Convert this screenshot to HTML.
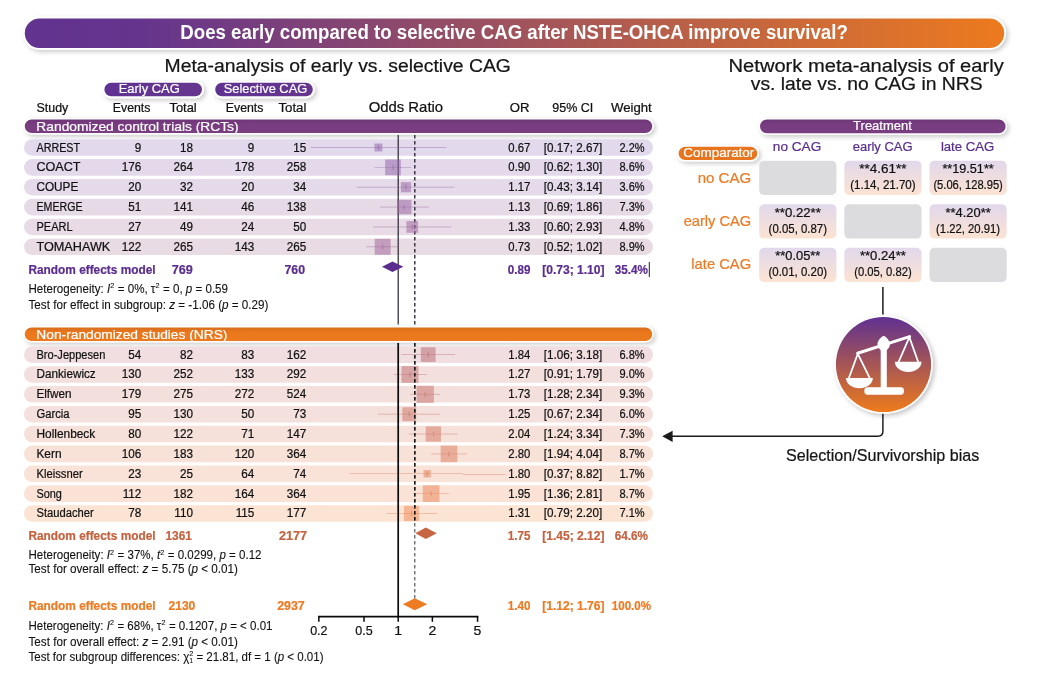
<!DOCTYPE html>
<html lang="en"><head><meta charset="utf-8"><title>Does early compared to selective CAG after NSTE-OHCA improve survival?</title>
<style>
html,body{margin:0;padding:0;background:#fff;}
body{width:1049px;height:678px;overflow:hidden;font-family:'Liberation Sans',sans-serif;}
svg{display:block;}
text{white-space:pre;}
</style></head><body>
<svg width="1049" height="678" viewBox="0 0 1049 678" font-family="'Liberation Sans', sans-serif">
<defs>
<linearGradient id="gTitle" x1="0" y1="0" x2="1" y2="0">
 <stop offset="0" stop-color="#62338f"/><stop offset="0.12" stop-color="#65358d"/><stop offset="1" stop-color="#ec7a1e"/>
</linearGradient>
<linearGradient id="gCirc" x1="0" y1="0" x2="0" y2="1">
 <stop offset="0" stop-color="#5f3191"/><stop offset="1" stop-color="#ee7b1b"/>
</linearGradient>
<linearGradient id="gCell" x1="0" y1="0" x2="0" y2="1">
 <stop offset="0" stop-color="#e1d8ec"/><stop offset="1" stop-color="#fce3d2"/>
</linearGradient>
<linearGradient id="gPill" x1="0" y1="0" x2="1" y2="0">
 <stop offset="0" stop-color="#5f3292"/><stop offset="1" stop-color="#66368e"/>
</linearGradient>
<linearGradient id="gNRS" x1="0" y1="0" x2="0" y2="1">
 <stop offset="0" stop-color="#d96d1c"/><stop offset="0.35" stop-color="#ea771c"/><stop offset="1" stop-color="#ec7a1e"/>
</linearGradient>
<linearGradient id="gRCT" x1="0" y1="0" x2="0" y2="1">
 <stop offset="0" stop-color="#6e3677"/><stop offset="0.35" stop-color="#783c80"/><stop offset="1" stop-color="#793d80"/>
</linearGradient>
<filter id="sh" x="-5%" y="-40%" width="110%" height="180%">
 <feGaussianBlur in="SourceAlpha" stdDeviation="2.4"/>
 <feOffset dx="1.5" dy="2"/>
 <feComponentTransfer><feFuncA type="linear" slope="0.22"/></feComponentTransfer>
 <feMerge><feMergeNode/><feMergeNode in="SourceGraphic"/></feMerge>
</filter>
<filter id="shc" x="-20%" y="-20%" width="140%" height="140%">
 <feGaussianBlur in="SourceAlpha" stdDeviation="2.4"/>
 <feOffset dx="1.5" dy="2"/>
 <feComponentTransfer><feFuncA type="linear" slope="0.25"/></feComponentTransfer>
 <feMerge><feMergeNode/><feMergeNode in="SourceGraphic"/></feMerge>
</filter>
</defs>
<rect width="1049" height="678" fill="#ffffff"/>
<rect x="23.00" y="16.60" width="983.00" height="33.20" rx="16.60" fill="#ffffff" filter="url(#sh)"/>
<rect x="24.8" y="18.4" width="979.4" height="29.6" rx="14.8" fill="url(#gTitle)"/>
<text x="180.32" y="38.70" font-size="19.5" font-weight="bold" fill="#ffffff" stroke="#ffffff" stroke-width="0" textLength="667.46" lengthAdjust="spacingAndGlyphs" >Does early compared to selective CAG after NSTE-OHCA improve survival?</text>
<text x="164.59" y="71.70" font-size="18" fill="#151515" stroke="#151515" stroke-width="0.22" textLength="346.32" lengthAdjust="spacingAndGlyphs" >Meta-analysis of early vs. selective CAG</text>
<text x="728.59" y="71.90" font-size="18" fill="#151515" stroke="#151515" stroke-width="0.22" textLength="275.12" lengthAdjust="spacingAndGlyphs" >Network meta-analysis of early</text>
<text x="750.79" y="89.70" font-size="18" fill="#151515" stroke="#151515" stroke-width="0.22" textLength="231.82" lengthAdjust="spacingAndGlyphs" >vs. late vs. no CAG in NRS</text>
<rect x="102.50" y="80.90" width="101.40" height="17.30" rx="8.65" fill="#ffffff" filter="url(#sh)"/>
<rect x="104.4" y="82.8" width="97.6" height="13.5" rx="6.75" fill="url(#gPill)"/>
<text x="118.72" y="93.00" font-size="13" fill="#ffffff" stroke="#ffffff" stroke-width="0.22" textLength="61.07" lengthAdjust="spacingAndGlyphs" >Early CAG</text>
<rect x="213.30" y="80.90" width="101.40" height="17.30" rx="8.65" fill="#ffffff" filter="url(#sh)"/>
<rect x="215.2" y="82.8" width="97.6" height="13.5" rx="6.75" fill="url(#gPill)"/>
<text x="223.72" y="93.00" font-size="13" fill="#ffffff" stroke="#ffffff" stroke-width="0.22" textLength="83.47" lengthAdjust="spacingAndGlyphs" >Selective CAG</text>
<text x="36.56" y="111.60" font-size="12" fill="#111111" stroke="#111111" stroke-width="0.22" textLength="31.68" lengthAdjust="spacingAndGlyphs" >Study</text>
<text x="112.76" y="111.60" font-size="12" fill="#111111" stroke="#111111" stroke-width="0.22" textLength="37.68" lengthAdjust="spacingAndGlyphs" >Events</text>
<text x="169.46" y="111.60" font-size="12" fill="#111111" stroke="#111111" stroke-width="0.22" textLength="27.28" lengthAdjust="spacingAndGlyphs" >Total</text>
<text x="225.76" y="111.60" font-size="12" fill="#111111" stroke="#111111" stroke-width="0.22" textLength="37.68" lengthAdjust="spacingAndGlyphs" >Events</text>
<text x="278.46" y="111.60" font-size="12" fill="#111111" stroke="#111111" stroke-width="0.22" textLength="27.98" lengthAdjust="spacingAndGlyphs" >Total</text>
<text x="368.65" y="111.60" font-size="14.5" fill="#111111" stroke="#111111" stroke-width="0.22" textLength="74.50" lengthAdjust="spacingAndGlyphs" >Odds Ratio</text>
<text x="509.76" y="111.50" font-size="12" fill="#111111" stroke="#111111" stroke-width="0.22" textLength="19.68" lengthAdjust="spacingAndGlyphs" >OR</text>
<text x="552.26" y="111.50" font-size="12" fill="#111111" stroke="#111111" stroke-width="0.22" textLength="40.98" lengthAdjust="spacingAndGlyphs" >95% CI</text>
<text x="610.96" y="111.50" font-size="12" fill="#111111" stroke="#111111" stroke-width="0.22" textLength="40.78" lengthAdjust="spacingAndGlyphs" >Weight</text>
<rect x="23.40" y="118.00" width="630.20" height="16.40" rx="8.20" fill="#ffffff" filter="url(#sh)"/>
<rect x="24.8" y="119.4" width="627.4" height="13.6" rx="6.8" fill="url(#gRCT)"/>
<text x="36.39" y="130.80" font-size="13.5" fill="#ffffff" stroke="#ffffff" stroke-width="0.22" textLength="202.22" lengthAdjust="spacingAndGlyphs" >Randomized control trials (RCTs)</text>
<rect x="23.40" y="326.10" width="630.20" height="16.20" rx="8.10" fill="#ffffff" filter="url(#sh)"/>
<rect x="24.8" y="327.5" width="627.4" height="13.4" rx="6.7" fill="url(#gNRS)"/>
<text x="36.39" y="338.60" font-size="13.5" fill="#ffffff" stroke="#ffffff" stroke-width="0.22" textLength="191.02" lengthAdjust="spacingAndGlyphs" >Non-randomized studies (NRS)</text>
<rect x="24" y="139.20" width="629" height="16.6" rx="8.3" fill="#e2d9ec"/>
<text x="36.46" y="151.50" font-size="12" fill="#111111" stroke="#111111" stroke-width="0.22" textLength="43.68" lengthAdjust="spacingAndGlyphs" >ARREST</text>
<text x="134.77" y="151.50" font-size="12" fill="#111111" stroke="#111111" stroke-width="0.22" textLength="6.51" lengthAdjust="spacingAndGlyphs" >9</text>
<text x="179.97" y="151.50" font-size="12" fill="#111111" stroke="#111111" stroke-width="0.22" textLength="13.01" lengthAdjust="spacingAndGlyphs" >18</text>
<text x="247.77" y="151.50" font-size="12" fill="#111111" stroke="#111111" stroke-width="0.22" textLength="6.51" lengthAdjust="spacingAndGlyphs" >9</text>
<text x="293.27" y="151.50" font-size="12" fill="#111111" stroke="#111111" stroke-width="0.22" textLength="13.01" lengthAdjust="spacingAndGlyphs" >15</text>
<text x="508.36" y="151.50" font-size="12" fill="#111111" stroke="#111111" stroke-width="0.22" textLength="21.98" lengthAdjust="spacingAndGlyphs" >0.67</text>
<text x="543.86" y="151.50" font-size="12" fill="#111111" stroke="#111111" stroke-width="0.22" textLength="58.38" lengthAdjust="spacingAndGlyphs" >[0.17; 2.67]</text>
<text x="619.46" y="151.50" font-size="12" fill="#111111" stroke="#111111" stroke-width="0.22" textLength="25.08" lengthAdjust="spacingAndGlyphs" >2.2%</text>
<rect x="24" y="159.06" width="629" height="16.6" rx="8.3" fill="#e3d9ea"/>
<text x="36.46" y="171.36" font-size="12" fill="#111111" stroke="#111111" stroke-width="0.22" textLength="44.08" lengthAdjust="spacingAndGlyphs" >COACT</text>
<text x="121.76" y="171.36" font-size="12" fill="#111111" stroke="#111111" stroke-width="0.22" textLength="19.52" lengthAdjust="spacingAndGlyphs" >176</text>
<text x="173.46" y="171.36" font-size="12" fill="#111111" stroke="#111111" stroke-width="0.22" textLength="19.52" lengthAdjust="spacingAndGlyphs" >264</text>
<text x="234.76" y="171.36" font-size="12" fill="#111111" stroke="#111111" stroke-width="0.22" textLength="19.52" lengthAdjust="spacingAndGlyphs" >178</text>
<text x="286.76" y="171.36" font-size="12" fill="#111111" stroke="#111111" stroke-width="0.22" textLength="19.52" lengthAdjust="spacingAndGlyphs" >258</text>
<text x="508.36" y="171.36" font-size="12" fill="#111111" stroke="#111111" stroke-width="0.22" textLength="21.98" lengthAdjust="spacingAndGlyphs" >0.90</text>
<text x="543.86" y="171.36" font-size="12" fill="#111111" stroke="#111111" stroke-width="0.22" textLength="58.38" lengthAdjust="spacingAndGlyphs" >[0.62; 1.30]</text>
<text x="619.46" y="171.36" font-size="12" fill="#111111" stroke="#111111" stroke-width="0.22" textLength="25.08" lengthAdjust="spacingAndGlyphs" >8.6%</text>
<rect x="24" y="178.92" width="629" height="16.6" rx="8.3" fill="#e5dae9"/>
<text x="36.46" y="191.22" font-size="12" fill="#111111" stroke="#111111" stroke-width="0.22" textLength="41.78" lengthAdjust="spacingAndGlyphs" >COUPE</text>
<text x="128.27" y="191.22" font-size="12" fill="#111111" stroke="#111111" stroke-width="0.22" textLength="13.01" lengthAdjust="spacingAndGlyphs" >20</text>
<text x="179.97" y="191.22" font-size="12" fill="#111111" stroke="#111111" stroke-width="0.22" textLength="13.01" lengthAdjust="spacingAndGlyphs" >32</text>
<text x="241.27" y="191.22" font-size="12" fill="#111111" stroke="#111111" stroke-width="0.22" textLength="13.01" lengthAdjust="spacingAndGlyphs" >20</text>
<text x="293.27" y="191.22" font-size="12" fill="#111111" stroke="#111111" stroke-width="0.22" textLength="13.01" lengthAdjust="spacingAndGlyphs" >34</text>
<text x="508.36" y="191.22" font-size="12" fill="#111111" stroke="#111111" stroke-width="0.22" textLength="21.98" lengthAdjust="spacingAndGlyphs" >1.17</text>
<text x="543.86" y="191.22" font-size="12" fill="#111111" stroke="#111111" stroke-width="0.22" textLength="58.38" lengthAdjust="spacingAndGlyphs" >[0.43; 3.14]</text>
<text x="619.46" y="191.22" font-size="12" fill="#111111" stroke="#111111" stroke-width="0.22" textLength="25.08" lengthAdjust="spacingAndGlyphs" >3.6%</text>
<rect x="24" y="198.78" width="629" height="16.6" rx="8.3" fill="#e6dae7"/>
<text x="36.46" y="211.08" font-size="12" fill="#111111" stroke="#111111" stroke-width="0.22" textLength="46.08" lengthAdjust="spacingAndGlyphs" >EMERGE</text>
<text x="128.27" y="211.08" font-size="12" fill="#111111" stroke="#111111" stroke-width="0.22" textLength="13.01" lengthAdjust="spacingAndGlyphs" >51</text>
<text x="173.46" y="211.08" font-size="12" fill="#111111" stroke="#111111" stroke-width="0.22" textLength="19.52" lengthAdjust="spacingAndGlyphs" >141</text>
<text x="241.27" y="211.08" font-size="12" fill="#111111" stroke="#111111" stroke-width="0.22" textLength="13.01" lengthAdjust="spacingAndGlyphs" >46</text>
<text x="286.76" y="211.08" font-size="12" fill="#111111" stroke="#111111" stroke-width="0.22" textLength="19.52" lengthAdjust="spacingAndGlyphs" >138</text>
<text x="508.36" y="211.08" font-size="12" fill="#111111" stroke="#111111" stroke-width="0.22" textLength="21.98" lengthAdjust="spacingAndGlyphs" >1.13</text>
<text x="543.86" y="211.08" font-size="12" fill="#111111" stroke="#111111" stroke-width="0.22" textLength="58.38" lengthAdjust="spacingAndGlyphs" >[0.69; 1.86]</text>
<text x="619.46" y="211.08" font-size="12" fill="#111111" stroke="#111111" stroke-width="0.22" textLength="25.08" lengthAdjust="spacingAndGlyphs" >7.3%</text>
<rect x="24" y="218.64" width="629" height="16.6" rx="8.3" fill="#e8dbe6"/>
<text x="36.46" y="230.94" font-size="12" fill="#111111" stroke="#111111" stroke-width="0.22" textLength="36.08" lengthAdjust="spacingAndGlyphs" >PEARL</text>
<text x="128.27" y="230.94" font-size="12" fill="#111111" stroke="#111111" stroke-width="0.22" textLength="13.01" lengthAdjust="spacingAndGlyphs" >27</text>
<text x="179.97" y="230.94" font-size="12" fill="#111111" stroke="#111111" stroke-width="0.22" textLength="13.01" lengthAdjust="spacingAndGlyphs" >49</text>
<text x="241.27" y="230.94" font-size="12" fill="#111111" stroke="#111111" stroke-width="0.22" textLength="13.01" lengthAdjust="spacingAndGlyphs" >24</text>
<text x="293.27" y="230.94" font-size="12" fill="#111111" stroke="#111111" stroke-width="0.22" textLength="13.01" lengthAdjust="spacingAndGlyphs" >50</text>
<text x="508.36" y="230.94" font-size="12" fill="#111111" stroke="#111111" stroke-width="0.22" textLength="21.98" lengthAdjust="spacingAndGlyphs" >1.33</text>
<text x="543.86" y="230.94" font-size="12" fill="#111111" stroke="#111111" stroke-width="0.22" textLength="58.38" lengthAdjust="spacingAndGlyphs" >[0.60; 2.93]</text>
<text x="619.46" y="230.94" font-size="12" fill="#111111" stroke="#111111" stroke-width="0.22" textLength="25.08" lengthAdjust="spacingAndGlyphs" >4.8%</text>
<rect x="24" y="238.50" width="629" height="16.6" rx="8.3" fill="#e9dbe4"/>
<text x="36.46" y="250.80" font-size="12" fill="#111111" stroke="#111111" stroke-width="0.22" textLength="73.88" lengthAdjust="spacingAndGlyphs" >TOMAHAWK</text>
<text x="121.76" y="250.80" font-size="12" fill="#111111" stroke="#111111" stroke-width="0.22" textLength="19.52" lengthAdjust="spacingAndGlyphs" >122</text>
<text x="173.46" y="250.80" font-size="12" fill="#111111" stroke="#111111" stroke-width="0.22" textLength="19.52" lengthAdjust="spacingAndGlyphs" >265</text>
<text x="234.76" y="250.80" font-size="12" fill="#111111" stroke="#111111" stroke-width="0.22" textLength="19.52" lengthAdjust="spacingAndGlyphs" >143</text>
<text x="286.76" y="250.80" font-size="12" fill="#111111" stroke="#111111" stroke-width="0.22" textLength="19.52" lengthAdjust="spacingAndGlyphs" >265</text>
<text x="508.36" y="250.80" font-size="12" fill="#111111" stroke="#111111" stroke-width="0.22" textLength="21.98" lengthAdjust="spacingAndGlyphs" >0.73</text>
<text x="543.86" y="250.80" font-size="12" fill="#111111" stroke="#111111" stroke-width="0.22" textLength="58.38" lengthAdjust="spacingAndGlyphs" >[0.52; 1.02]</text>
<text x="619.46" y="250.80" font-size="12" fill="#111111" stroke="#111111" stroke-width="0.22" textLength="25.08" lengthAdjust="spacingAndGlyphs" >8.9%</text>
<rect x="24" y="346.30" width="629" height="16.6" rx="8.3" fill="#f0dee0"/>
<text x="36.46" y="358.60" font-size="12" fill="#111111" stroke="#111111" stroke-width="0.22" textLength="68.88" lengthAdjust="spacingAndGlyphs" >Bro-Jeppesen</text>
<text x="128.27" y="358.60" font-size="12" fill="#111111" stroke="#111111" stroke-width="0.22" textLength="13.01" lengthAdjust="spacingAndGlyphs" >54</text>
<text x="179.97" y="358.60" font-size="12" fill="#111111" stroke="#111111" stroke-width="0.22" textLength="13.01" lengthAdjust="spacingAndGlyphs" >82</text>
<text x="241.27" y="358.60" font-size="12" fill="#111111" stroke="#111111" stroke-width="0.22" textLength="13.01" lengthAdjust="spacingAndGlyphs" >83</text>
<text x="286.76" y="358.60" font-size="12" fill="#111111" stroke="#111111" stroke-width="0.22" textLength="19.52" lengthAdjust="spacingAndGlyphs" >162</text>
<text x="508.36" y="358.60" font-size="12" fill="#111111" stroke="#111111" stroke-width="0.22" textLength="21.98" lengthAdjust="spacingAndGlyphs" >1.84</text>
<text x="543.86" y="358.60" font-size="12" fill="#111111" stroke="#111111" stroke-width="0.22" textLength="58.38" lengthAdjust="spacingAndGlyphs" >[1.06; 3.18]</text>
<text x="619.46" y="358.60" font-size="12" fill="#111111" stroke="#111111" stroke-width="0.22" textLength="25.08" lengthAdjust="spacingAndGlyphs" >6.8%</text>
<rect x="24" y="366.16" width="629" height="16.6" rx="8.3" fill="#f2dfde"/>
<text x="36.46" y="378.46" font-size="12" fill="#111111" stroke="#111111" stroke-width="0.22" textLength="59.28" lengthAdjust="spacingAndGlyphs" >Dankiewicz</text>
<text x="121.76" y="378.46" font-size="12" fill="#111111" stroke="#111111" stroke-width="0.22" textLength="19.52" lengthAdjust="spacingAndGlyphs" >130</text>
<text x="173.46" y="378.46" font-size="12" fill="#111111" stroke="#111111" stroke-width="0.22" textLength="19.52" lengthAdjust="spacingAndGlyphs" >252</text>
<text x="234.76" y="378.46" font-size="12" fill="#111111" stroke="#111111" stroke-width="0.22" textLength="19.52" lengthAdjust="spacingAndGlyphs" >133</text>
<text x="286.76" y="378.46" font-size="12" fill="#111111" stroke="#111111" stroke-width="0.22" textLength="19.52" lengthAdjust="spacingAndGlyphs" >292</text>
<text x="508.36" y="378.46" font-size="12" fill="#111111" stroke="#111111" stroke-width="0.22" textLength="21.98" lengthAdjust="spacingAndGlyphs" >1.27</text>
<text x="543.86" y="378.46" font-size="12" fill="#111111" stroke="#111111" stroke-width="0.22" textLength="58.38" lengthAdjust="spacingAndGlyphs" >[0.91; 1.79]</text>
<text x="619.46" y="378.46" font-size="12" fill="#111111" stroke="#111111" stroke-width="0.22" textLength="25.08" lengthAdjust="spacingAndGlyphs" >9.0%</text>
<rect x="24" y="386.02" width="629" height="16.6" rx="8.3" fill="#f3e0dd"/>
<text x="36.46" y="398.32" font-size="12" fill="#111111" stroke="#111111" stroke-width="0.22" textLength="35.08" lengthAdjust="spacingAndGlyphs" >Elfwen</text>
<text x="121.76" y="398.32" font-size="12" fill="#111111" stroke="#111111" stroke-width="0.22" textLength="19.52" lengthAdjust="spacingAndGlyphs" >179</text>
<text x="173.46" y="398.32" font-size="12" fill="#111111" stroke="#111111" stroke-width="0.22" textLength="19.52" lengthAdjust="spacingAndGlyphs" >275</text>
<text x="234.76" y="398.32" font-size="12" fill="#111111" stroke="#111111" stroke-width="0.22" textLength="19.52" lengthAdjust="spacingAndGlyphs" >272</text>
<text x="286.76" y="398.32" font-size="12" fill="#111111" stroke="#111111" stroke-width="0.22" textLength="19.52" lengthAdjust="spacingAndGlyphs" >524</text>
<text x="508.36" y="398.32" font-size="12" fill="#111111" stroke="#111111" stroke-width="0.22" textLength="21.98" lengthAdjust="spacingAndGlyphs" >1.73</text>
<text x="543.86" y="398.32" font-size="12" fill="#111111" stroke="#111111" stroke-width="0.22" textLength="58.38" lengthAdjust="spacingAndGlyphs" >[1.28; 2.34]</text>
<text x="619.46" y="398.32" font-size="12" fill="#111111" stroke="#111111" stroke-width="0.22" textLength="25.08" lengthAdjust="spacingAndGlyphs" >9.3%</text>
<rect x="24" y="405.88" width="629" height="16.6" rx="8.3" fill="#f4e0dc"/>
<text x="36.46" y="418.18" font-size="12" fill="#111111" stroke="#111111" stroke-width="0.22" textLength="33.08" lengthAdjust="spacingAndGlyphs" >Garcia</text>
<text x="128.27" y="418.18" font-size="12" fill="#111111" stroke="#111111" stroke-width="0.22" textLength="13.01" lengthAdjust="spacingAndGlyphs" >95</text>
<text x="173.46" y="418.18" font-size="12" fill="#111111" stroke="#111111" stroke-width="0.22" textLength="19.52" lengthAdjust="spacingAndGlyphs" >130</text>
<text x="241.27" y="418.18" font-size="12" fill="#111111" stroke="#111111" stroke-width="0.22" textLength="13.01" lengthAdjust="spacingAndGlyphs" >50</text>
<text x="293.27" y="418.18" font-size="12" fill="#111111" stroke="#111111" stroke-width="0.22" textLength="13.01" lengthAdjust="spacingAndGlyphs" >73</text>
<text x="508.36" y="418.18" font-size="12" fill="#111111" stroke="#111111" stroke-width="0.22" textLength="21.98" lengthAdjust="spacingAndGlyphs" >1.25</text>
<text x="543.86" y="418.18" font-size="12" fill="#111111" stroke="#111111" stroke-width="0.22" textLength="58.38" lengthAdjust="spacingAndGlyphs" >[0.67; 2.34]</text>
<text x="619.46" y="418.18" font-size="12" fill="#111111" stroke="#111111" stroke-width="0.22" textLength="25.08" lengthAdjust="spacingAndGlyphs" >6.0%</text>
<rect x="24" y="425.74" width="629" height="16.6" rx="8.3" fill="#f6e1da"/>
<text x="36.46" y="438.04" font-size="12" fill="#111111" stroke="#111111" stroke-width="0.22" textLength="58.78" lengthAdjust="spacingAndGlyphs" >Hollenbeck</text>
<text x="128.27" y="438.04" font-size="12" fill="#111111" stroke="#111111" stroke-width="0.22" textLength="13.01" lengthAdjust="spacingAndGlyphs" >80</text>
<text x="173.46" y="438.04" font-size="12" fill="#111111" stroke="#111111" stroke-width="0.22" textLength="19.52" lengthAdjust="spacingAndGlyphs" >122</text>
<text x="241.27" y="438.04" font-size="12" fill="#111111" stroke="#111111" stroke-width="0.22" textLength="13.01" lengthAdjust="spacingAndGlyphs" >71</text>
<text x="286.76" y="438.04" font-size="12" fill="#111111" stroke="#111111" stroke-width="0.22" textLength="19.52" lengthAdjust="spacingAndGlyphs" >147</text>
<text x="508.36" y="438.04" font-size="12" fill="#111111" stroke="#111111" stroke-width="0.22" textLength="21.98" lengthAdjust="spacingAndGlyphs" >2.04</text>
<text x="543.86" y="438.04" font-size="12" fill="#111111" stroke="#111111" stroke-width="0.22" textLength="58.38" lengthAdjust="spacingAndGlyphs" >[1.24; 3.34]</text>
<text x="619.46" y="438.04" font-size="12" fill="#111111" stroke="#111111" stroke-width="0.22" textLength="25.08" lengthAdjust="spacingAndGlyphs" >7.3%</text>
<rect x="24" y="445.60" width="629" height="16.6" rx="8.3" fill="#f8e2d8"/>
<text x="36.46" y="457.90" font-size="12" fill="#111111" stroke="#111111" stroke-width="0.22" textLength="25.08" lengthAdjust="spacingAndGlyphs" >Kern</text>
<text x="121.76" y="457.90" font-size="12" fill="#111111" stroke="#111111" stroke-width="0.22" textLength="19.52" lengthAdjust="spacingAndGlyphs" >106</text>
<text x="173.46" y="457.90" font-size="12" fill="#111111" stroke="#111111" stroke-width="0.22" textLength="19.52" lengthAdjust="spacingAndGlyphs" >183</text>
<text x="234.76" y="457.90" font-size="12" fill="#111111" stroke="#111111" stroke-width="0.22" textLength="19.52" lengthAdjust="spacingAndGlyphs" >120</text>
<text x="286.76" y="457.90" font-size="12" fill="#111111" stroke="#111111" stroke-width="0.22" textLength="19.52" lengthAdjust="spacingAndGlyphs" >364</text>
<text x="508.36" y="457.90" font-size="12" fill="#111111" stroke="#111111" stroke-width="0.22" textLength="21.98" lengthAdjust="spacingAndGlyphs" >2.80</text>
<text x="543.86" y="457.90" font-size="12" fill="#111111" stroke="#111111" stroke-width="0.22" textLength="58.38" lengthAdjust="spacingAndGlyphs" >[1.94; 4.04]</text>
<text x="619.46" y="457.90" font-size="12" fill="#111111" stroke="#111111" stroke-width="0.22" textLength="25.08" lengthAdjust="spacingAndGlyphs" >8.7%</text>
<rect x="24" y="465.46" width="629" height="16.6" rx="8.3" fill="#f9e2d7"/>
<text x="36.46" y="477.76" font-size="12" fill="#111111" stroke="#111111" stroke-width="0.22" textLength="46.28" lengthAdjust="spacingAndGlyphs" >Kleissner</text>
<text x="128.27" y="477.76" font-size="12" fill="#111111" stroke="#111111" stroke-width="0.22" textLength="13.01" lengthAdjust="spacingAndGlyphs" >23</text>
<text x="179.97" y="477.76" font-size="12" fill="#111111" stroke="#111111" stroke-width="0.22" textLength="13.01" lengthAdjust="spacingAndGlyphs" >25</text>
<text x="241.27" y="477.76" font-size="12" fill="#111111" stroke="#111111" stroke-width="0.22" textLength="13.01" lengthAdjust="spacingAndGlyphs" >64</text>
<text x="293.27" y="477.76" font-size="12" fill="#111111" stroke="#111111" stroke-width="0.22" textLength="13.01" lengthAdjust="spacingAndGlyphs" >74</text>
<text x="508.36" y="477.76" font-size="12" fill="#111111" stroke="#111111" stroke-width="0.22" textLength="21.98" lengthAdjust="spacingAndGlyphs" >1.80</text>
<text x="543.86" y="477.76" font-size="12" fill="#111111" stroke="#111111" stroke-width="0.22" textLength="58.38" lengthAdjust="spacingAndGlyphs" >[0.37; 8.82]</text>
<text x="619.46" y="477.76" font-size="12" fill="#111111" stroke="#111111" stroke-width="0.22" textLength="25.08" lengthAdjust="spacingAndGlyphs" >1.7%</text>
<rect x="24" y="485.32" width="629" height="16.6" rx="8.3" fill="#fae3d6"/>
<text x="36.46" y="497.62" font-size="12" fill="#111111" stroke="#111111" stroke-width="0.22" textLength="25.48" lengthAdjust="spacingAndGlyphs" >Song</text>
<text x="122.63" y="497.62" font-size="12" fill="#111111" stroke="#111111" stroke-width="0.22" textLength="18.65" lengthAdjust="spacingAndGlyphs" >112</text>
<text x="173.46" y="497.62" font-size="12" fill="#111111" stroke="#111111" stroke-width="0.22" textLength="19.52" lengthAdjust="spacingAndGlyphs" >182</text>
<text x="234.76" y="497.62" font-size="12" fill="#111111" stroke="#111111" stroke-width="0.22" textLength="19.52" lengthAdjust="spacingAndGlyphs" >164</text>
<text x="286.76" y="497.62" font-size="12" fill="#111111" stroke="#111111" stroke-width="0.22" textLength="19.52" lengthAdjust="spacingAndGlyphs" >364</text>
<text x="508.36" y="497.62" font-size="12" fill="#111111" stroke="#111111" stroke-width="0.22" textLength="21.98" lengthAdjust="spacingAndGlyphs" >1.95</text>
<text x="543.86" y="497.62" font-size="12" fill="#111111" stroke="#111111" stroke-width="0.22" textLength="58.38" lengthAdjust="spacingAndGlyphs" >[1.36; 2.81]</text>
<text x="619.46" y="497.62" font-size="12" fill="#111111" stroke="#111111" stroke-width="0.22" textLength="25.08" lengthAdjust="spacingAndGlyphs" >8.7%</text>
<rect x="24" y="505.18" width="629" height="16.6" rx="8.3" fill="#fce4d4"/>
<text x="36.46" y="517.48" font-size="12" fill="#111111" stroke="#111111" stroke-width="0.22" textLength="57.28" lengthAdjust="spacingAndGlyphs" >Staudacher</text>
<text x="128.27" y="517.48" font-size="12" fill="#111111" stroke="#111111" stroke-width="0.22" textLength="13.01" lengthAdjust="spacingAndGlyphs" >78</text>
<text x="174.33" y="517.48" font-size="12" fill="#111111" stroke="#111111" stroke-width="0.22" textLength="18.65" lengthAdjust="spacingAndGlyphs" >110</text>
<text x="235.63" y="517.48" font-size="12" fill="#111111" stroke="#111111" stroke-width="0.22" textLength="18.65" lengthAdjust="spacingAndGlyphs" >115</text>
<text x="286.76" y="517.48" font-size="12" fill="#111111" stroke="#111111" stroke-width="0.22" textLength="19.52" lengthAdjust="spacingAndGlyphs" >177</text>
<text x="508.36" y="517.48" font-size="12" fill="#111111" stroke="#111111" stroke-width="0.22" textLength="21.98" lengthAdjust="spacingAndGlyphs" >1.31</text>
<text x="543.86" y="517.48" font-size="12" fill="#111111" stroke="#111111" stroke-width="0.22" textLength="58.38" lengthAdjust="spacingAndGlyphs" >[0.79; 2.20]</text>
<text x="619.46" y="517.48" font-size="12" fill="#111111" stroke="#111111" stroke-width="0.22" textLength="25.08" lengthAdjust="spacingAndGlyphs" >7.1%</text>
<line x1="398.2" y1="135" x2="398.2" y2="324.5" stroke="#2a2230" stroke-width="1.2"/>
<line x1="414.8" y1="135" x2="414.8" y2="325" stroke="#2a2230" stroke-width="1.35" stroke-dasharray="3.4,2.6"/>
<line x1="310.84" y1="147.50" x2="446.62" y2="147.50" stroke="#8c5fa5" stroke-width="0.65" opacity="0.6"/>
<rect x="374.49" y="143.53" width="7.94" height="7.94" fill="#9669ac" opacity="0.55"/>
<line x1="378.46" y1="145.00" x2="378.46" y2="150.00" stroke="#8c5fa5" stroke-width="0.7" opacity="0.8"/>
<line x1="374.63" y1="167.36" x2="411.13" y2="167.36" stroke="#8e5fa2" stroke-width="0.65" opacity="0.6"/>
<rect x="385.16" y="159.52" width="15.69" height="15.69" fill="#9869a9" opacity="0.55"/>
<line x1="393.01" y1="164.86" x2="393.01" y2="169.86" stroke="#8e5fa2" stroke-width="0.7" opacity="0.8"/>
<line x1="356.59" y1="187.22" x2="454.61" y2="187.22" stroke="#905f9f" stroke-width="0.65" opacity="0.6"/>
<rect x="400.86" y="182.14" width="10.15" height="10.15" fill="#9b69a6" opacity="0.55"/>
<line x1="405.94" y1="184.72" x2="405.94" y2="189.72" stroke="#905f9f" stroke-width="0.7" opacity="0.8"/>
<line x1="379.91" y1="207.08" x2="428.79" y2="207.08" stroke="#925f9c" stroke-width="0.65" opacity="0.6"/>
<rect x="397.00" y="199.85" width="14.45" height="14.45" fill="#9d69a4" opacity="0.55"/>
<line x1="404.23" y1="204.58" x2="404.23" y2="209.58" stroke="#925f9c" stroke-width="0.7" opacity="0.8"/>
<line x1="373.02" y1="226.94" x2="451.20" y2="226.94" stroke="#945f99" stroke-width="0.65" opacity="0.6"/>
<rect x="406.40" y="221.08" width="11.72" height="11.72" fill="#a069a1" opacity="0.55"/>
<line x1="412.26" y1="224.44" x2="412.26" y2="229.44" stroke="#945f99" stroke-width="0.7" opacity="0.8"/>
<line x1="365.96" y1="246.80" x2="399.18" y2="246.80" stroke="#965f96" stroke-width="0.65" opacity="0.6"/>
<rect x="374.70" y="238.82" width="15.96" height="15.96" fill="#a2699e" opacity="0.55"/>
<line x1="382.68" y1="244.30" x2="382.68" y2="249.30" stroke="#965f96" stroke-width="0.7" opacity="0.8"/>
<line x1="401.07" y1="354.60" x2="455.23" y2="354.60" stroke="#b45f69" stroke-width="0.65" opacity="0.6"/>
<rect x="420.89" y="347.23" width="14.73" height="14.73" fill="#bc707a" opacity="0.55"/>
<line x1="428.26" y1="352.10" x2="428.26" y2="357.10" stroke="#b45f69" stroke-width="0.7" opacity="0.8"/>
<line x1="393.55" y1="374.46" x2="426.90" y2="374.46" stroke="#ba6365" stroke-width="0.65" opacity="0.6"/>
<rect x="401.51" y="365.99" width="16.95" height="16.95" fill="#c27476" opacity="0.55"/>
<line x1="409.98" y1="371.96" x2="409.98" y2="376.96" stroke="#ba6365" stroke-width="0.7" opacity="0.8"/>
<line x1="410.37" y1="394.32" x2="440.11" y2="394.32" stroke="#c16662" stroke-width="0.65" opacity="0.6"/>
<rect x="416.61" y="385.70" width="17.23" height="17.23" fill="#c97872" opacity="0.55"/>
<line x1="425.22" y1="391.82" x2="425.22" y2="396.82" stroke="#c16662" stroke-width="0.7" opacity="0.8"/>
<line x1="378.46" y1="414.18" x2="440.11" y2="414.18" stroke="#c86a5e" stroke-width="0.65" opacity="0.6"/>
<rect x="402.28" y="407.26" width="13.84" height="13.84" fill="#d07b6f" opacity="0.55"/>
<line x1="409.20" y1="411.68" x2="409.20" y2="416.68" stroke="#c86a5e" stroke-width="0.7" opacity="0.8"/>
<line x1="408.80" y1="434.04" x2="457.65" y2="434.04" stroke="#ce6e5a" stroke-width="0.65" opacity="0.6"/>
<rect x="425.72" y="426.41" width="15.27" height="15.27" fill="#d67f6b" opacity="0.55"/>
<line x1="433.35" y1="431.54" x2="433.35" y2="436.54" stroke="#ce6e5a" stroke-width="0.7" opacity="0.8"/>
<line x1="430.87" y1="453.90" x2="467.03" y2="453.90" stroke="#d47256" stroke-width="0.65" opacity="0.6"/>
<rect x="440.63" y="445.57" width="16.67" height="16.67" fill="#dc8367" opacity="0.55"/>
<line x1="448.96" y1="451.40" x2="448.96" y2="456.40" stroke="#d47256" stroke-width="0.7" opacity="0.8"/>
<line x1="349.18" y1="473.36" x2="462.5" y2="473.36" stroke="#db7652" stroke-width="0.65" opacity="0.6"/>
<line x1="462.5" y1="474.56" x2="505.53" y2="474.56" stroke="#db7652" stroke-width="0.65" opacity="0.6"/>
<rect x="423.49" y="470.08" width="7.37" height="7.37" fill="#e38664" opacity="0.55"/>
<line x1="427.18" y1="471.26" x2="427.18" y2="476.26" stroke="#db7652" stroke-width="0.7" opacity="0.8"/>
<line x1="413.36" y1="493.62" x2="449.14" y2="493.62" stroke="#e2794f" stroke-width="0.65" opacity="0.6"/>
<rect x="422.79" y="485.29" width="16.67" height="16.67" fill="#ea8a60" opacity="0.55"/>
<line x1="431.12" y1="491.12" x2="431.12" y2="496.12" stroke="#e2794f" stroke-width="0.7" opacity="0.8"/>
<line x1="386.58" y1="513.48" x2="437.07" y2="513.48" stroke="#e87d4b" stroke-width="0.65" opacity="0.6"/>
<rect x="403.98" y="505.95" width="15.05" height="15.05" fill="#f08e5c" opacity="0.55"/>
<line x1="411.51" y1="510.98" x2="411.51" y2="515.98" stroke="#e87d4b" stroke-width="0.7" opacity="0.8"/>
<line x1="398.2" y1="343" x2="398.2" y2="617.4" stroke="#0a0a0a" stroke-width="1.7"/>
<line x1="414.8" y1="343" x2="414.8" y2="598.5" stroke="#4a4a4a" stroke-width="1.1" stroke-dasharray="3.4,2.6"/>
<line x1="414.8" y1="343" x2="414.8" y2="522" stroke="#151515" stroke-width="1.5" stroke-dasharray="3.4,2.6"/>
<polygon points="382.00,266.8 392.45,261.6 403.34,266.8 392.45,272.0" fill="#5b2d8f"/>
<polygon points="415.31,533.2 425.79,527.5 436.85,533.2 425.79,538.9000000000001" fill="#c86543"/>
<polygon points="402.81,604.2 414.79,598.2 427.18,604.2 414.79,610.2" fill="#ee7a22"/>
<text x="28.46" y="273.70" font-size="12" font-weight="bold" fill="#5b2d8f" stroke="#5b2d8f" stroke-width="0.22" textLength="127.08" lengthAdjust="spacingAndGlyphs" >Random effects model</text>
<text x="171.76" y="273.70" font-size="12" font-weight="bold" fill="#5b2d8f" stroke="#5b2d8f" stroke-width="0.22" textLength="21.08" lengthAdjust="spacingAndGlyphs" >769</text>
<text x="284.46" y="273.70" font-size="12" font-weight="bold" fill="#5b2d8f" stroke="#5b2d8f" stroke-width="0.22" textLength="20.58" lengthAdjust="spacingAndGlyphs" >760</text>
<text x="507.76" y="273.70" font-size="12" font-weight="bold" fill="#5b2d8f" stroke="#5b2d8f" stroke-width="0.22" textLength="22.58" lengthAdjust="spacingAndGlyphs" >0.89</text>
<text x="542.26" y="273.70" font-size="12" font-weight="bold" fill="#5b2d8f" stroke="#5b2d8f" stroke-width="0.22" textLength="62.28" lengthAdjust="spacingAndGlyphs" >[0.73; 1.10]</text>
<text x="614.76" y="273.70" font-size="12" font-weight="bold" fill="#5b2d8f" stroke="#5b2d8f" stroke-width="0.22" textLength="33.28" lengthAdjust="spacingAndGlyphs" >35.4%</text>
<text x="28.46" y="539.80" font-size="12" font-weight="bold" fill="#c4623f" stroke="#c4623f" stroke-width="0.22" textLength="127.08" lengthAdjust="spacingAndGlyphs" >Random effects model</text>
<text x="165.46" y="539.80" font-size="12" font-weight="bold" fill="#c4623f" stroke="#c4623f" stroke-width="0.22" textLength="26.38" lengthAdjust="spacingAndGlyphs" >1361</text>
<text x="278.96" y="539.80" font-size="12" font-weight="bold" fill="#c4623f" stroke="#c4623f" stroke-width="0.22" textLength="28.08" lengthAdjust="spacingAndGlyphs" >2177</text>
<text x="507.76" y="539.80" font-size="12" font-weight="bold" fill="#c4623f" stroke="#c4623f" stroke-width="0.22" textLength="22.58" lengthAdjust="spacingAndGlyphs" >1.75</text>
<text x="542.26" y="539.80" font-size="12" font-weight="bold" fill="#c4623f" stroke="#c4623f" stroke-width="0.22" textLength="62.28" lengthAdjust="spacingAndGlyphs" >[1.45; 2.12]</text>
<text x="614.76" y="539.80" font-size="12" font-weight="bold" fill="#c4623f" stroke="#c4623f" stroke-width="0.22" textLength="33.28" lengthAdjust="spacingAndGlyphs" >64.6%</text>
<text x="28.46" y="610.00" font-size="12" font-weight="bold" fill="#ee7a22" stroke="#ee7a22" stroke-width="0.22" textLength="127.08" lengthAdjust="spacingAndGlyphs" >Random effects model</text>
<text x="168.46" y="610.00" font-size="12" font-weight="bold" fill="#ee7a22" stroke="#ee7a22" stroke-width="0.22" textLength="26.88" lengthAdjust="spacingAndGlyphs" >2130</text>
<text x="277.16" y="610.00" font-size="12" font-weight="bold" fill="#ee7a22" stroke="#ee7a22" stroke-width="0.22" textLength="27.58" lengthAdjust="spacingAndGlyphs" >2937</text>
<text x="507.76" y="610.00" font-size="12" font-weight="bold" fill="#ee7a22" stroke="#ee7a22" stroke-width="0.22" textLength="22.58" lengthAdjust="spacingAndGlyphs" >1.40</text>
<text x="542.26" y="610.00" font-size="12" font-weight="bold" fill="#ee7a22" stroke="#ee7a22" stroke-width="0.22" textLength="62.28" lengthAdjust="spacingAndGlyphs" >[1.12; 1.76]</text>
<text x="611.76" y="610.00" font-size="12" font-weight="bold" fill="#ee7a22" stroke="#ee7a22" stroke-width="0.22" textLength="39.28" lengthAdjust="spacingAndGlyphs" >100.0%</text>
<rect x="648.8" y="262" width="1" height="15" fill="#222"/>
<text x="28.5" y="292.8" font-size="12" fill="#111111" stroke="#111111" stroke-width="0.1" textLength="199.50" lengthAdjust="spacingAndGlyphs" xml:space="preserve">Heterogeneity: <tspan font-style="italic">I</tspan><tspan font-size="7.5" dy="-4.5">2</tspan><tspan dy="4.5" font-size="1"> </tspan> = 0%, τ<tspan font-size="7.5" dy="-4.5">2</tspan><tspan dy="4.5" font-size="1"> </tspan> = 0, <tspan font-style="italic">p</tspan> = 0.59</text>
<text x="28.5" y="308.9" font-size="12" fill="#111111" stroke="#111111" stroke-width="0.1" textLength="240.00" lengthAdjust="spacingAndGlyphs" xml:space="preserve">Test for effect in subgroup: <tspan font-style="italic">z</tspan> = -1.06 (<tspan font-style="italic">p</tspan> = 0.29)</text>
<text x="28.5" y="559.3" font-size="12" fill="#111111" stroke="#111111" stroke-width="0.1" textLength="233.00" lengthAdjust="spacingAndGlyphs" xml:space="preserve">Heterogeneity: <tspan font-style="italic">I</tspan><tspan font-size="7.5" dy="-4.5">2</tspan><tspan dy="4.5" font-size="1"> </tspan> = 37%, <tspan font-style="italic">t</tspan><tspan font-size="7.5" dy="-4.5">2</tspan><tspan dy="4.5" font-size="1"> </tspan> = 0.0299, <tspan font-style="italic">p</tspan> = 0.12</text>
<text x="28.5" y="573.0" font-size="12" fill="#111111" stroke="#111111" stroke-width="0.1" textLength="209.50" lengthAdjust="spacingAndGlyphs" xml:space="preserve">Test for overall effect: <tspan font-style="italic">z</tspan> = 5.75 (<tspan font-style="italic">p</tspan> &lt; 0.01)</text>
<text x="28.5" y="629.5" font-size="12" fill="#111111" stroke="#111111" stroke-width="0.1" textLength="244.00" lengthAdjust="spacingAndGlyphs" xml:space="preserve">Heterogeneity: <tspan font-style="italic">I</tspan><tspan font-size="7.5" dy="-4.5">2</tspan><tspan dy="4.5" font-size="1"> </tspan> = 68%, τ<tspan font-size="7.5" dy="-4.5">2</tspan><tspan dy="4.5" font-size="1"> </tspan> = 0.1207, <tspan font-style="italic">p</tspan> = &lt; 0.01</text>
<text x="28.5" y="645.8" font-size="12" fill="#111111" stroke="#111111" stroke-width="0.1" textLength="209.50" lengthAdjust="spacingAndGlyphs" xml:space="preserve">Test for overall effect: <tspan font-style="italic">z</tspan> = 2.91 (<tspan font-style="italic">p</tspan> &lt; 0.01)</text>
<text x="28.5" y="660.5" font-size="12" fill="#111111" stroke="#111111" stroke-width="0.1" textLength="295.00" lengthAdjust="spacingAndGlyphs" xml:space="preserve">Test for subgroup differences: χ<tspan font-size="7.5" dy="-4.5">2</tspan><tspan dy="4.5" font-size="1"> </tspan><tspan font-size="6.5" dx="-4.2" dy="2.8">1</tspan><tspan dy="-2.8" font-size="1"> </tspan> = 21.81, df = 1 (<tspan font-style="italic">p</tspan> &lt; 0.01)</text>
<line x1="318.1" y1="616.6" x2="478.4" y2="616.6" stroke="#0a0a0a" stroke-width="1.7"/>
<line x1="318.85" y1="616.6" x2="318.85" y2="621.8" stroke="#0a0a0a" stroke-width="1.5"/>
<text x="310.15" y="635.00" font-size="13.5" fill="#111111" stroke="#111111" stroke-width="0.22" textLength="17.41" lengthAdjust="spacingAndGlyphs" >0.2</text>
<line x1="364.03" y1="616.6" x2="364.03" y2="621.8" stroke="#0a0a0a" stroke-width="1.5"/>
<text x="355.32" y="635.00" font-size="13.5" fill="#111111" stroke="#111111" stroke-width="0.22" textLength="17.41" lengthAdjust="spacingAndGlyphs" >0.5</text>
<line x1="398.20" y1="616.6" x2="398.20" y2="621.8" stroke="#0a0a0a" stroke-width="1.5"/>
<text x="394.29" y="635.00" font-size="13.5" fill="#111111" stroke="#111111" stroke-width="0.22" textLength="7.81" lengthAdjust="spacingAndGlyphs" >1</text>
<line x1="432.37" y1="616.6" x2="432.37" y2="621.8" stroke="#0a0a0a" stroke-width="1.5"/>
<text x="428.46" y="635.00" font-size="13.5" fill="#111111" stroke="#111111" stroke-width="0.22" textLength="7.81" lengthAdjust="spacingAndGlyphs" >2</text>
<line x1="477.55" y1="616.6" x2="477.55" y2="621.8" stroke="#0a0a0a" stroke-width="1.5"/>
<text x="473.64" y="635.00" font-size="13.5" fill="#111111" stroke="#111111" stroke-width="0.22" textLength="7.81" lengthAdjust="spacingAndGlyphs" >5</text>
<rect x="758.60" y="118.10" width="248.40" height="16.60" rx="8.30" fill="#ffffff" filter="url(#sh)"/>
<rect x="760" y="119.5" width="245.6" height="13.8" rx="6.9" fill="url(#gRCT)"/>
<text x="853.14" y="129.90" font-size="12.5" fill="#ffffff" stroke="#ffffff" stroke-width="0.22" textLength="58.72" lengthAdjust="spacingAndGlyphs" >Treatment</text>
<rect x="677.00" y="145.20" width="81.80" height="16.40" rx="8.20" fill="#ffffff" filter="url(#sh)"/>
<rect x="678.6" y="146.8" width="78.6" height="13.2" rx="6.6" fill="#e77520"/>
<text x="683.23" y="157.00" font-size="12.6" fill="#ffffff" stroke="#ffffff" stroke-width="0.22" textLength="71.13" lengthAdjust="spacingAndGlyphs" >Comparator</text>
<text x="772.89" y="150.80" font-size="13.5" fill="#5b2d8f" stroke="#5b2d8f" stroke-width="0.22" textLength="48.42" lengthAdjust="spacingAndGlyphs" >no CAG</text>
<text x="852.69" y="150.80" font-size="13.5" fill="#5b2d8f" stroke="#5b2d8f" stroke-width="0.22" textLength="59.92" lengthAdjust="spacingAndGlyphs" >early CAG</text>
<text x="940.89" y="150.80" font-size="13.5" fill="#5b2d8f" stroke="#5b2d8f" stroke-width="0.22" textLength="53.42" lengthAdjust="spacingAndGlyphs" >late CAG</text>
<text x="697.73" y="182.90" font-size="15" fill="#ec7a25" stroke="#ec7a25" stroke-width="0.22" textLength="53.45" lengthAdjust="spacingAndGlyphs" >no CAG</text>
<text x="683.73" y="225.60" font-size="15" fill="#ec7a25" stroke="#ec7a25" stroke-width="0.22" textLength="67.45" lengthAdjust="spacingAndGlyphs" >early CAG</text>
<text x="691.33" y="269.20" font-size="15" fill="#ec7a25" stroke="#ec7a25" stroke-width="0.22" textLength="59.85" lengthAdjust="spacingAndGlyphs" >late CAG</text>
<rect x="759.2" y="160.8" width="77.2" height="34.3" rx="5" fill="#dcdcde"/>
<rect x="844.3" y="160.8" width="77.2" height="34.3" rx="5" fill="url(#gCell)"/>
<text x="859.36" y="173.20" font-size="12" fill="#111111" stroke="#111111" stroke-width="0.22" textLength="47.08" lengthAdjust="spacingAndGlyphs" >**4.61**</text>
<text x="850.16" y="189.20" font-size="12" fill="#111111" stroke="#111111" stroke-width="0.22" textLength="65.48" lengthAdjust="spacingAndGlyphs" >(1.14, 21.70)</text>
<rect x="929.5" y="160.8" width="77.2" height="34.3" rx="5" fill="url(#gCell)"/>
<text x="942.46" y="173.20" font-size="12" fill="#111111" stroke="#111111" stroke-width="0.22" textLength="51.28" lengthAdjust="spacingAndGlyphs" >**19.51**</text>
<text x="933.41" y="189.20" font-size="12" fill="#111111" stroke="#111111" stroke-width="0.22" textLength="69.38" lengthAdjust="spacingAndGlyphs" >(5.06, 128.95)</text>
<rect x="759.2" y="204.3" width="77.2" height="34.3" rx="5" fill="url(#gCell)"/>
<text x="774.71" y="216.70" font-size="12" fill="#111111" stroke="#111111" stroke-width="0.22" textLength="46.18" lengthAdjust="spacingAndGlyphs" >**0.22**</text>
<text x="768.61" y="232.70" font-size="12" fill="#111111" stroke="#111111" stroke-width="0.22" textLength="58.38" lengthAdjust="spacingAndGlyphs" >(0.05, 0.87)</text>
<rect x="844.3" y="204.3" width="77.2" height="34.3" rx="5" fill="#dcdcde"/>
<rect x="929.5" y="204.3" width="77.2" height="34.3" rx="5" fill="url(#gCell)"/>
<text x="945.51" y="216.70" font-size="12" fill="#111111" stroke="#111111" stroke-width="0.22" textLength="45.18" lengthAdjust="spacingAndGlyphs" >**4.20**</text>
<text x="936.11" y="232.70" font-size="12" fill="#111111" stroke="#111111" stroke-width="0.22" textLength="63.98" lengthAdjust="spacingAndGlyphs" >(1.22, 20.91)</text>
<rect x="759.2" y="247.8" width="77.2" height="34.3" rx="5" fill="url(#gCell)"/>
<text x="775.21" y="260.20" font-size="12" fill="#111111" stroke="#111111" stroke-width="0.22" textLength="45.18" lengthAdjust="spacingAndGlyphs" >**0.05**</text>
<text x="768.51" y="276.20" font-size="12" fill="#111111" stroke="#111111" stroke-width="0.22" textLength="58.58" lengthAdjust="spacingAndGlyphs" >(0.01, 0.20)</text>
<rect x="844.3" y="247.8" width="77.2" height="34.3" rx="5" fill="url(#gCell)"/>
<text x="859.91" y="260.20" font-size="12" fill="#111111" stroke="#111111" stroke-width="0.22" textLength="45.98" lengthAdjust="spacingAndGlyphs" >**0.24**</text>
<text x="854.16" y="276.20" font-size="12" fill="#111111" stroke="#111111" stroke-width="0.22" textLength="57.48" lengthAdjust="spacingAndGlyphs" >(0.05, 0.82)</text>
<rect x="929.5" y="247.8" width="77.2" height="34.3" rx="5" fill="#dcdcde"/>
<path d="M882.9 287 V314.5" stroke="#1a1a1a" stroke-width="1.5" fill="none"/>
<path d="M882.9 411 V431.3 Q882.9 436.3 877.9 436.3 H670" stroke="#1a1a1a" stroke-width="1.45" fill="none"/>
<polygon points="662.2,436.3 672.6,430.7 672.6,441.9" fill="#1a1a1a"/>
<circle cx="883.5" cy="364.5" r="49.2" fill="#ffffff" filter="url(#shc)"/>
<circle cx="883.5" cy="364.5" r="47.6" fill="url(#gCirc)"/>
<g fill="#ffffff" stroke="none">
<rect x="880.7" y="345" width="6.1" height="43.5"/>
<path d="M883.7 335.8 C886.2 337.0 889.9 340.6 889.9 344.3 C889.9 347.6 887.6 349.3 886.8 350.2 H880.7 C879.8 349.3 877.5 347.6 877.5 344.3 C877.5 340.6 881.2 337.0 883.7 335.8 Z"/>
<rect x="864.4" y="387.3" width="39.5" height="7.5" rx="3.2"/>
<path d="M846 377.9 H872.8 A13.4 10.3 0 0 1 846 377.9 Z"/>
<path d="M894.9 361.7 H921.5 A13.3 10.3 0 0 1 894.9 361.7 Z"/>
</g>
<g fill="none" stroke="#ffffff" stroke-linecap="round" stroke-linejoin="round">
<path d="M857.6 353.3 L909.6 336.6" stroke-width="3"/>
<path d="M848.8 378.2 L857.8 353.8 L869.8 378.2" stroke-width="1.8"/>
<path d="M898.6 362 L909.4 337.2 L918.2 362" stroke-width="1.8"/>
</g>
<text x="786.07" y="460.90" font-size="16.3" fill="#151515" stroke="#151515" stroke-width="0.22" textLength="193.17" lengthAdjust="spacingAndGlyphs" >Selection/Survivorship bias</text>
</svg>
</body></html>
